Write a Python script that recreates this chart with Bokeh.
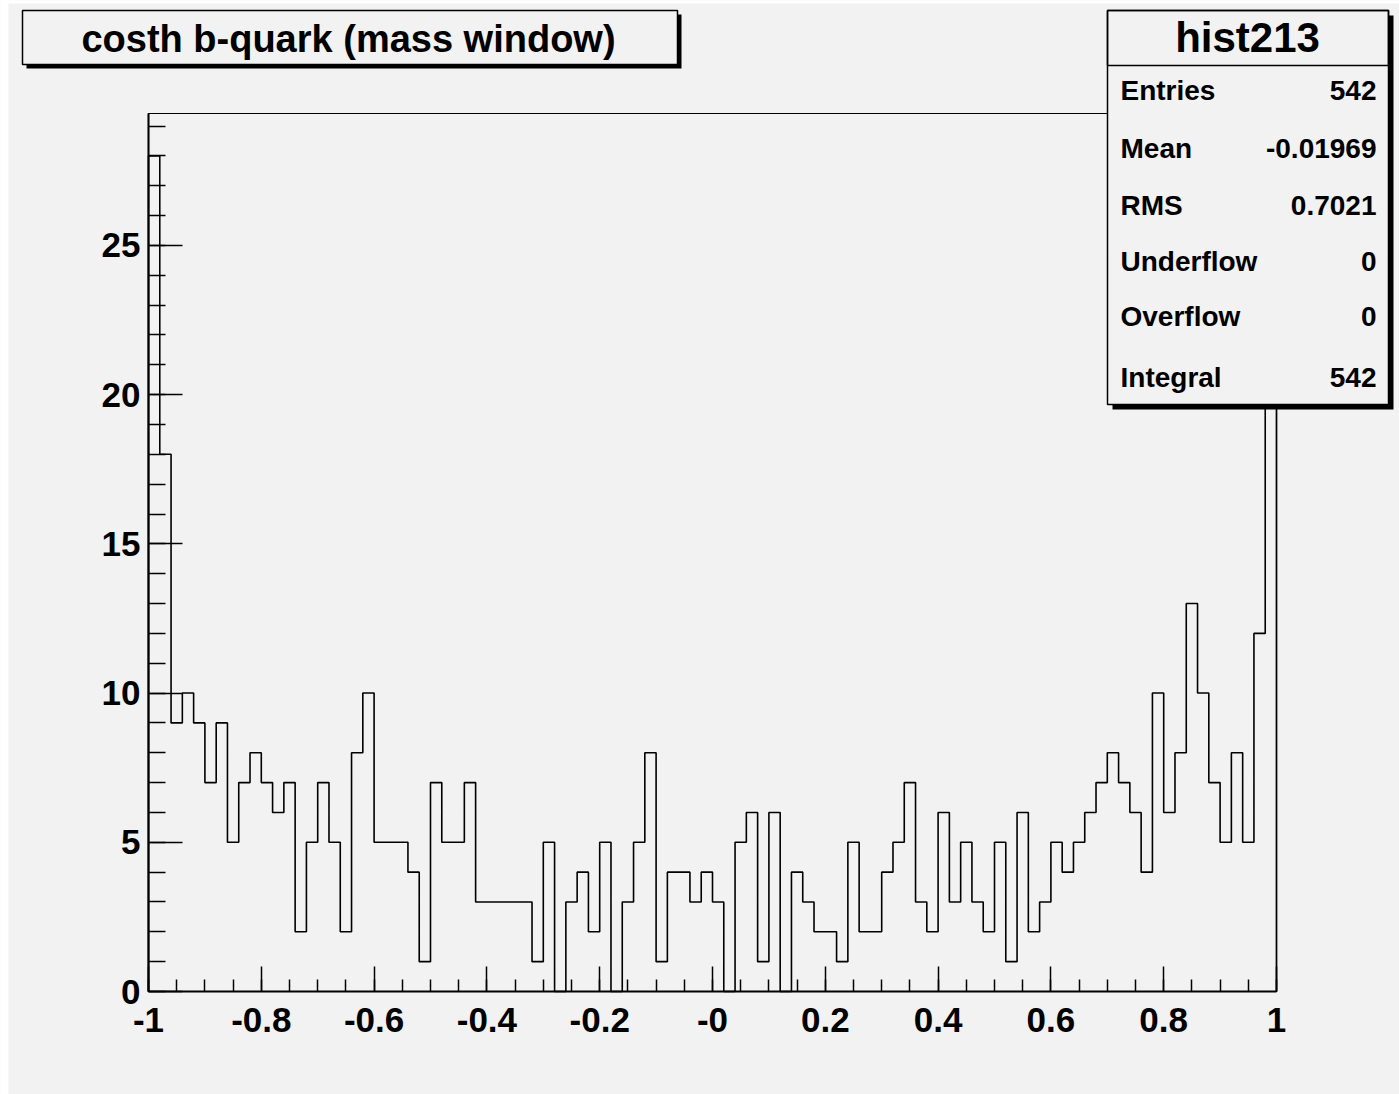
import numpy as np
from bokeh.plotting import figure
from bokeh.models import Range1d, FixedTicker, BoxAnnotation, Label
from bokeh.embed import file_html
from bokeh.resources import INLINE

# ---- data ----
bin_lo = -1.0
bin_hi = 1.0
n_bins = 100
counts = [28, 18, 9, 10, 9, 7, 9, 5, 7, 8,
          7, 6, 7, 2, 5, 7, 5, 2, 8, 10,
          5, 5, 5, 4, 1, 7, 5, 5, 7, 3,
          3, 3, 3, 3, 1, 5, 0, 3, 4, 2,
          5, 0, 3, 5, 8, 1, 4, 4, 3, 4,
          3, 0, 5, 6, 1, 6, 0, 4, 3, 2,
          2, 1, 5, 2, 2, 4, 5, 7, 3, 2,
          6, 3, 5, 3, 2, 5, 1, 6, 2, 3,
          5, 4, 5, 6, 7, 8, 7, 6, 4, 10,
          6, 8, 13, 10, 7, 5, 8, 5, 12, 27]
x_ticks = [-1.0, -0.8, -0.6, -0.4, -0.2, 0.0, 0.2, 0.4, 0.6, 0.8, 1.0]
x_tick_labels = ["-1", "-0.8", "-0.6", "-0.4", "-0.2", "-0", "0.2", "0.4", "0.6", "0.8", "1"]
y_ticks = [0, 5, 10, 15, 20, 25]
y_max = 29.42
title_text = "costh b-quark (mass window)"
stats_title = "hist213"
stat_names = ["Entries", "Mean", "RMS", "Underflow", "Overflow", "Integral"]
stat_values = ["542", "-0.01969", "0.7021", "0", "0", "542"]

# ---- layout (pixel geometry of the page) ----
BG = "#f2f2f2"
FONT = "Liberation Sans"
W, H = 1399, 1094
FR_L, FR_R, FR_T, FR_B = 148, 1276, 113, 991   # plot frame in page pixels


def px2x(px):
    return bin_lo + (px - FR_L) * (bin_hi - bin_lo) / (FR_R - FR_L)


def py2y(py):
    return (FR_B - py) * y_max / (FR_B - FR_T)


edges = list(np.linspace(bin_lo, bin_hi, n_bins + 1))
xs = [edges[0]] + edges
ys = [0] + counts + [0]

p = figure(width=W, height=H, output_backend="svg", toolbar_location=None,
           x_range=Range1d(px2x(0), px2x(W)), y_range=Range1d(py2y(H), py2y(0)),
           min_border=0, min_border_left=0, min_border_right=0,
           min_border_top=0, min_border_bottom=0)
p.background_fill_color = BG
p.border_fill_color = BG
p.outline_line_color = None
p.xgrid.visible = False
p.ygrid.visible = False


def dbox(l, r, t, b, fill, line=None, lw=1.5, level="annotation"):
    return BoxAnnotation(left=px2x(l), right=px2x(r), top=py2y(t), bottom=py2y(b),
                         fill_color=fill, fill_alpha=1.0 if fill else 0.0,
                         line_color=line, line_width=lw, line_alpha=1.0 if line else 0.0,
                         level=level)


def dlabel(px, py, text, size, align):
    return Label(x=px2x(px), y=py2y(py), text=text, text_font=FONT,
                 text_font_style="bold", text_font_size=size, text_align=align,
                 text_baseline="middle", text_color="black")


# white page strips on the left and top edges
p.add_layout(dbox(-2, 8, -2, H + 2, "white", level="underlay"))
p.add_layout(dbox(-2, W + 2, -2, 3, "white", level="underlay"))

# frame box of the histogram
p.quad(left=[bin_lo], right=[bin_hi], bottom=[0], top=[y_max],
       fill_color=None, line_color="black", line_width=1.2)

# histogram outline
p.step(x=xs, y=ys, mode="after", line_color="black", line_width=1.6)

minor_x = [round(bin_lo + 0.05 * i, 4) for i in range(41)]
p.xaxis.ticker = FixedTicker(ticks=x_ticks, minor_ticks=minor_x)
p.xaxis.major_label_overrides = {t: l for t, l in zip(x_ticks, x_tick_labels)}
p.yaxis.ticker = FixedTicker(ticks=y_ticks, minor_ticks=list(range(0, 30)))
p.xaxis.fixed_location = 0
p.yaxis.fixed_location = bin_lo
p.xaxis.bounds = (bin_lo, bin_hi)
p.yaxis.bounds = (0, y_max)

for ax in (p.xaxis[0], p.yaxis[0]):
    ax.axis_line_color = "black"
    ax.axis_line_width = 2
    ax.major_tick_line_color = "black"
    ax.minor_tick_line_color = "black"
    ax.major_tick_line_width = 1.5
    ax.minor_tick_line_width = 1.5
    ax.major_tick_out = 0
    ax.minor_tick_out = 0
    ax.major_label_text_font = FONT
    ax.major_label_text_font_style = "bold"
    ax.major_label_text_font_size = "35px"
    ax.major_label_text_color = "black"

p.xaxis.major_tick_in = 25
p.xaxis.minor_tick_in = 12
p.xaxis.major_label_standoff = 16
p.yaxis.major_tick_in = 34
p.yaxis.minor_tick_in = 17
p.yaxis.major_label_standoff = 8

# title box with shadow
p.add_layout(dbox(26, 681, 14, 68, "black"))
p.add_layout(dbox(22, 677, 10, 64, BG, "black", 1.5))
p.add_layout(dlabel(348, 38, title_text, "38px", "center"))

# stats box with shadow
p.add_layout(dbox(1112, 1393, 15, 409, "black"))
p.add_layout(dbox(1107, 1388, 10, 404, BG, "black", 1.5))
p.add_layout(dbox(1107, 1388, 10, 65, None, "black", 1.5))
p.add_layout(dlabel(1247, 37, stats_title, "42px", "center"))
row_y = [90, 148, 205, 261, 316, 377]
for name, val, yy in zip(stat_names, stat_values, row_y):
    p.add_layout(dlabel(1120, yy, name, "28px", "left"))
    p.add_layout(dlabel(1376, yy, val, "28px", "right"))

open("out.html", "w").write(file_html(p, INLINE))
